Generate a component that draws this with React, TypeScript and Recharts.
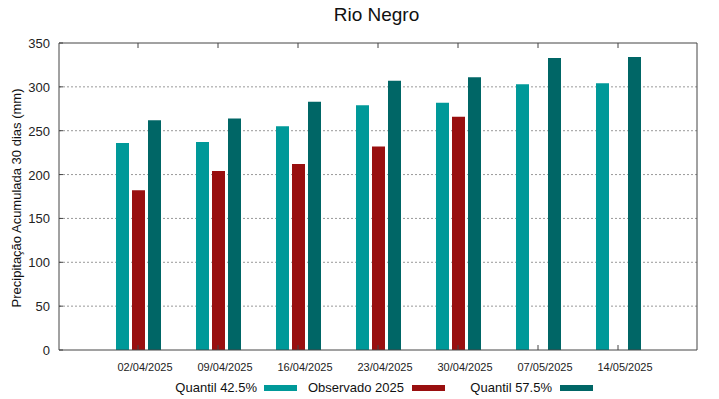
import React from "react";
import { Bar, BarChart, CartesianGrid, XAxis, YAxis } from "recharts";

// weekly dates shown on the x axis
const DATES = [
  "02/04/2025",
  "09/04/2025",
  "16/04/2025",
  "23/04/2025",
  "30/04/2025",
  "07/05/2025",
  "14/05/2025",
];

// 30-day accumulated precipitation (mm)
const Q425 = [236, 237, 255, 279, 282, 303, 304];
const OBS2025 = [182, 204, 212, 232, 266, null, null];
const Q575 = [262, 264, 283, 307, 311, 333, 334];

const Y_TICKS = [0, 50, 100, 150, 200, 250, 300, 350];

const C_LOW = "#009999";
const C_OBS = "#990f0f";
const C_HIGH = "#006666";
const AXIS = "#444";
const FONT = "'Liberation Sans', Arial, sans-serif";

const data = DATES.map((d, i) => ({
  date: d,
  q425: Q425[i],
  obs: OBS2025[i],
  q575: Q575[i],
}));

// bottom axis: inward tick + label nudged right, gnuplot style
function BottomTick(props: any) {
  const { x, y, payload } = props;
  return (
    <g>
      <line x1={x} y1={y} x2={x} y2={y - 5} stroke={AXIS} />
      <text x={x + 7} y={y + 21} textAnchor="middle" fontSize={11} fill="#222" fontFamily={FONT}>
        {payload.value}
      </text>
    </g>
  );
}

function TopTick(props: any) {
  const { x, y } = props;
  return <line x1={x} y1={y} x2={x} y2={y + 5} stroke={AXIS} />;
}

function LeftTick(props: any) {
  const { x, y, payload } = props;
  return (
    <g>
      <line x1={x} y1={y} x2={x + 4} y2={y} stroke={AXIS} />
      <text x={x - 9} y={y + 5} textAnchor="end" fontSize={13} fill="#222" fontFamily={FONT}>
        {payload.value}
      </text>
    </g>
  );
}

function RightTick(props: any) {
  const { x, y } = props;
  return <line x1={x} y1={y} x2={x - 4} y2={y} stroke={AXIS} />;
}

const legendItems = [
  { label: "Quantil 42.5%", color: C_LOW, textRight: 257, swatch: 264 },
  { label: "Observado 2025", color: C_OBS, textRight: 404, swatch: 412 },
  { label: "Quantil 57.5%", color: C_HIGH, textRight: 552, swatch: 560 },
];

export default function App() {
  return (
    <div
      style={{
        position: "absolute",
        left: 0,
        top: 0,
        width: 719,
        height: 399,
        background: "#fff",
        fontFamily: FONT,
      }}
    >
      <div
        style={{
          position: "absolute",
          left: 0,
          width: 719,
          top: 4,
          textAlign: "center",
          fontSize: 19,
          color: "#111",
          paddingLeft: 34,
          boxSizing: "border-box",
        }}
      >
        Rio Negro
      </div>

      <BarChart
        width={719}
        height={399}
        data={data}
        margin={{ top: 42, right: 21, bottom: 48, left: 58 }}
        barSize={13}
        barGap={3}
      >
        <CartesianGrid
          horizontal
          vertical={false}
          stroke="#999"
          strokeDasharray="2 2"
          yAxisId="left"
          xAxisId="bottom"
          horizontalValues={[50, 100, 150, 200, 250, 300]}
        />
        <XAxis
          dataKey="date"
          xAxisId="bottom"
          height={1}
          padding={{ left: 39, right: 39 }}
          tickSize={0}
          tickMargin={0}
          tickLine={false}
          tick={<BottomTick />}
          interval={0}
          stroke={AXIS}
        />
        <XAxis
          dataKey="date"
          xAxisId="top"
          orientation="top"
          height={1}
          padding={{ left: 39, right: 39 }}
          tickSize={0}
          tickMargin={0}
          tickLine={false}
          tick={<TopTick />}
          interval={0}
          stroke={AXIS}
        />
        <YAxis
          yAxisId="left"
          width={1}
          domain={[0, 350]}
          ticks={Y_TICKS}
          tickSize={0}
          tickMargin={0}
          tickLine={false}
          tick={<LeftTick />}
          interval={0}
          stroke={AXIS}
        />
        <YAxis
          yAxisId="right"
          orientation="right"
          width={1}
          domain={[0, 350]}
          ticks={Y_TICKS}
          tickSize={0}
          tickMargin={0}
          tickLine={false}
          tick={<RightTick />}
          interval={0}
          stroke={AXIS}
        />
        <Bar dataKey="q425" xAxisId="bottom" yAxisId="left" fill={C_LOW} isAnimationActive={false} />
        <Bar dataKey="obs" xAxisId="bottom" yAxisId="left" fill={C_OBS} isAnimationActive={false} />
        <Bar dataKey="q575" xAxisId="bottom" yAxisId="left" fill={C_HIGH} isAnimationActive={false} />
      </BarChart>

      <div
        style={{
          position: "absolute",
          left: 16,
          top: 198,
          transform: "translate(-50%, -50%) rotate(-90deg)",
          whiteSpace: "nowrap",
          fontSize: 13,
          color: "#111",
        }}
      >
        Precipitação Acumulada 30 dias (mm)
      </div>

      {legendItems.map((it) => (
        <React.Fragment key={it.label}>
          <div
            style={{
              position: "absolute",
              right: 719 - it.textRight,
              top: 380,
              fontSize: 13,
              color: "#111",
              whiteSpace: "nowrap",
              lineHeight: "16px",
            }}
          >
            {it.label}
          </div>
          <div
            style={{
              position: "absolute",
              left: it.swatch,
              top: 385,
              width: 33,
              height: 6,
              background: it.color,
            }}
          />
        </React.Fragment>
      ))}
    </div>
  );
}
